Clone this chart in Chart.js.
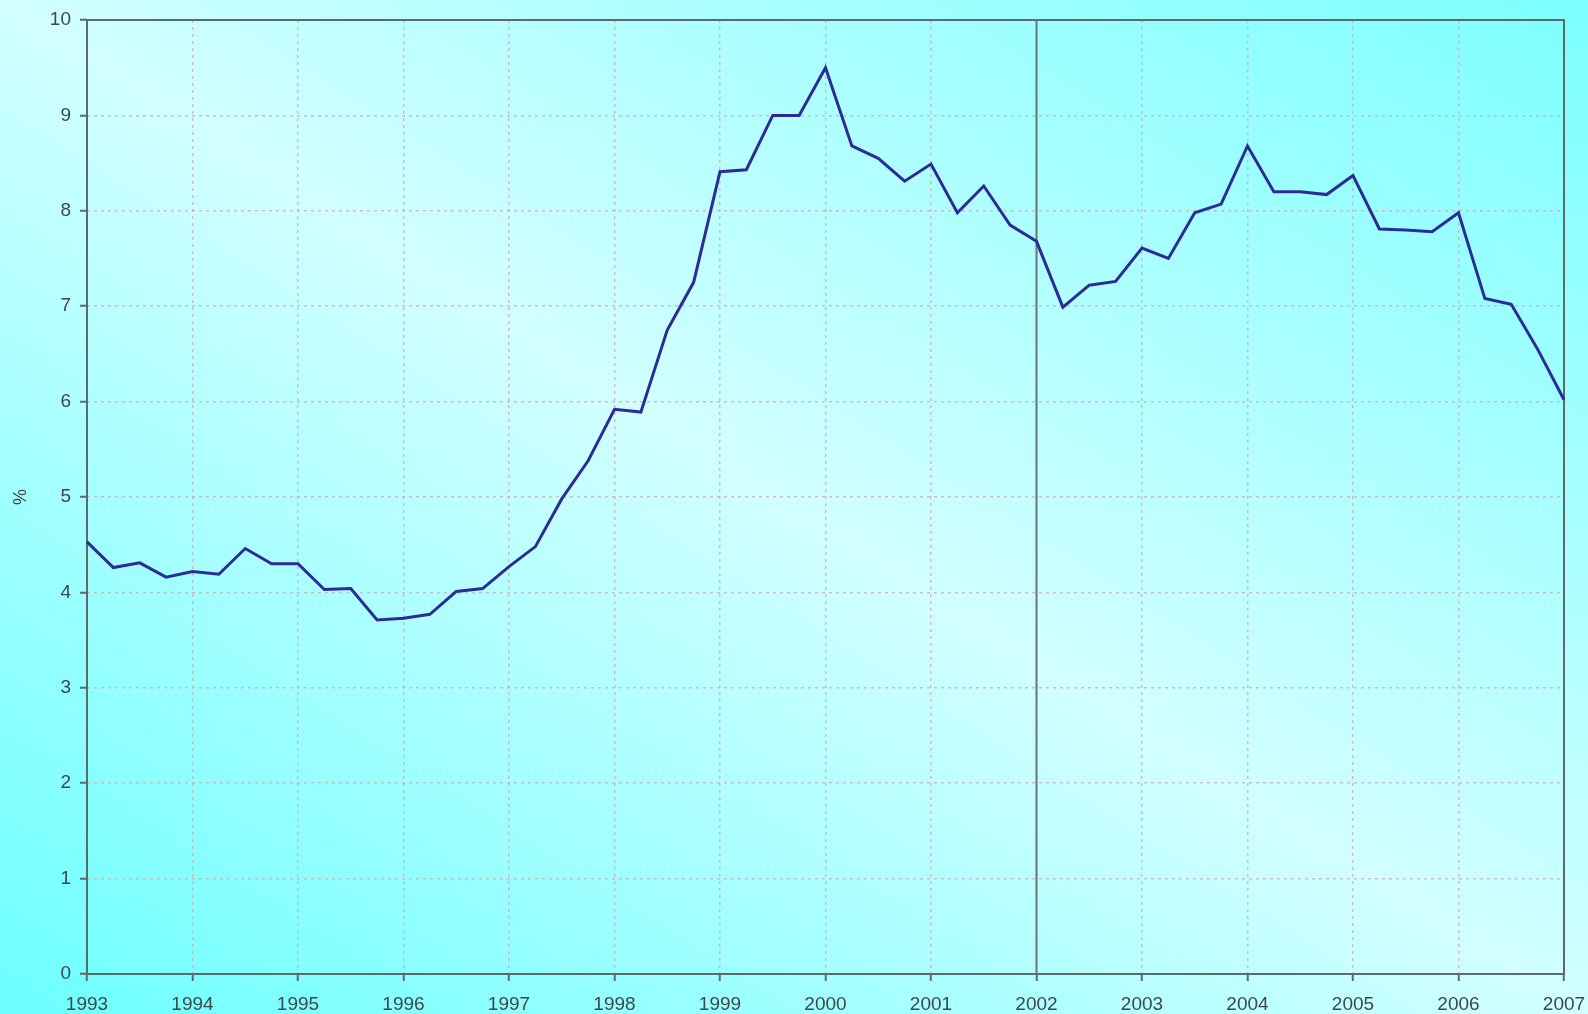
<!DOCTYPE html>
<html>
<head>
<meta charset="utf-8">
<script src="https://cdn.jsdelivr.net/npm/chart.js@4"></script>
<style>
  html, body { margin: 0; padding: 0; width: 1588px; height: 1014px; overflow: hidden; }
  body { background: linear-gradient(to top right, #6cffff 0%, #d2ffff 50%, #7cffff 100%); }
  #wrap { position: relative; width: 1588px; height: 1014px; }
</style>
</head>
<body>
<div id="wrap"><canvas id="c" width="1588" height="1014"></canvas></div>
<script>
const quarters = [
  '1993 Q1','1993 Q2','1993 Q3','1993 Q4',
  '1994 Q1','1994 Q2','1994 Q3','1994 Q4',
  '1995 Q1','1995 Q2','1995 Q3','1995 Q4',
  '1996 Q1','1996 Q2','1996 Q3','1996 Q4',
  '1997 Q1','1997 Q2','1997 Q3','1997 Q4',
  '1998 Q1','1998 Q2','1998 Q3','1998 Q4',
  '1999 Q1','1999 Q2','1999 Q3','1999 Q4',
  '2000 Q1','2000 Q2','2000 Q3','2000 Q4',
  '2001 Q1','2001 Q2','2001 Q3','2001 Q4',
  '2002 Q1','2002 Q2','2002 Q3','2002 Q4',
  '2003 Q1','2003 Q2','2003 Q3','2003 Q4',
  '2004 Q1','2004 Q2','2004 Q3','2004 Q4',
  '2005 Q1','2005 Q2','2005 Q3','2005 Q4',
  '2006 Q1','2006 Q2','2006 Q3','2006 Q4',
  '2007 Q1'
];
const rate = [
  4.53, 4.26, 4.31, 4.16,
  4.22, 4.19, 4.46, 4.30,
  4.30, 4.03, 4.04, 3.71,
  3.73, 3.77, 4.01, 4.04,
  4.27, 4.48, 4.98, 5.38,
  5.92, 5.89, 6.75, 7.25,
  8.41, 8.43, 9.00, 9.00,
  9.50, 8.68, 8.55, 8.31,
  8.49, 7.98, 8.26, 7.85,
  7.68, 6.99, 7.22, 7.26,
  7.61, 7.50, 7.98, 8.07,
  8.68, 8.20, 8.20, 8.17,
  8.37, 7.81, 7.80, 7.78,
  7.98, 7.08, 7.02, 6.55,
  6.02
];
const yearLabels = ['1993','1994','1995','1996','1997','1998','1999','2000','2001','2002','2003','2004','2005','2006','2007'];
const yTicks = [0,1,2,3,4,5,6,7,8,9,10];
const markerQuarter = '2002 Q1';

const GRID = 'rgba(205,175,175,0.8)';
const AXIS = '#5b6b6b';
const TEXT = '#3e4848';
const FONT = "'Liberation Sans', Arial, sans-serif";

const framePlugin = {
  id: 'frame',
  beforeDatasetsDraw(chart) {
    const {ctx, chartArea: a, scales} = chart;
    ctx.save();
    ctx.strokeStyle = AXIS;
    ctx.lineWidth = 2;
    ctx.setLineDash([]);
    ctx.strokeRect(a.left, a.top, a.right - a.left, a.bottom - a.top);
    const xm = scales.x.getPixelForValue(quarters.indexOf(markerQuarter));
    ctx.strokeStyle = '#6a7676';
    ctx.lineWidth = 2;
    ctx.beginPath();
    ctx.moveTo(xm, a.top);
    ctx.lineTo(xm, a.bottom);
    ctx.stroke();
    ctx.restore();
  }
};

new Chart(document.getElementById('c'), {
  type: 'line',
  data: {
    labels: quarters,
    datasets: [{
      data: rate,
      borderColor: '#2c2c98',
      borderWidth: 3,
      pointRadius: 0,
      tension: 0,
      fill: false
    }]
  },
  options: {
    responsive: false,
    animation: false,
    devicePixelRatio: 1,
    layout: { padding: { left: 8, top: 20, right: 24, bottom: 0 } },
    plugins: { legend: { display: false }, tooltip: { enabled: false } },
    scales: {
      x: {
        type: 'category',
        offset: false,
        border: { display: false, dash: [3, 4] },
        grid: {
          color: (c) => (c.index % 4 === 0 && c.index !== 0 && c.index !== quarters.length - 1) ? GRID : 'rgba(0,0,0,0)',
          lineWidth: 1.5,
          borderDash: [3, 4],
          drawTicks: true,
          tickLength: 7,
          tickColor: (c) => (c.index % 4 === 0) ? AXIS : 'rgba(0,0,0,0)',
          tickWidth: 2,
          tickBorderDash: []
        },
        ticks: {
          autoSkip: false,
          maxRotation: 0,
          minRotation: 0,
          padding: 12,
          color: TEXT,
          font: { family: FONT, size: 19 },
          callback: (v, i) => (i % 4 === 0) ? yearLabels[i / 4] : ''
        },
        afterFit: (s) => { s.height = 40; s.paddingLeft = 0; s.paddingRight = 0; }
      },
      y: {
        min: 0,
        max: 10,
        border: { display: false, dash: [3, 4] },
        grid: {
          color: (c) => (c.tick && (c.tick.value === 0 || c.tick.value === 10)) ? 'rgba(0,0,0,0)' : GRID,
          lineWidth: 1.5,
          borderDash: [3, 4],
          tickLength: 7,
          tickColor: AXIS,
          tickWidth: 2,
          tickBorderDash: []
        },
        afterBuildTicks: (s) => { s.ticks = yTicks.map(v => ({ value: v })); },
        ticks: {
          stepSize: 1,
          padding: 9,
          color: TEXT,
          font: { family: FONT, size: 19 }
        },
        title: {
          display: true,
          text: '%',
          color: TEXT,
          font: { family: FONT, size: 18 },
          padding: { top: 2, bottom: 0 }
        },
        afterFit: (s) => { s.width = 79; s.paddingTop = 0; s.paddingBottom = 0; }
      }
    }
  },
  plugins: [framePlugin]
});
</script>
</body>
</html>
